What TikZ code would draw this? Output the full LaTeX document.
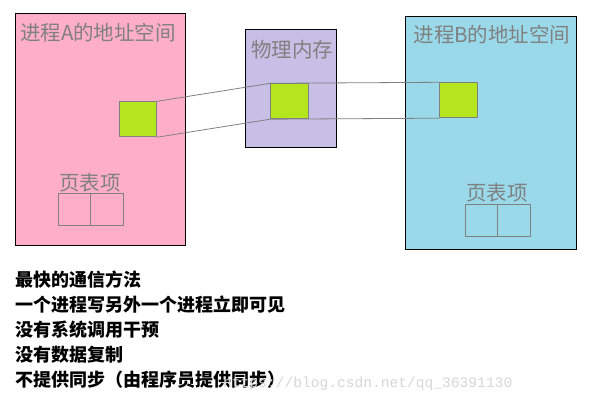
\documentclass[tikz,border=0pt]{standalone}
\usepackage{fontspec}
\newfontfamily\cjk{Noto Sans CJK SC}
\setmonofont{Liberation Mono}
\definecolor{rose}{RGB}{255,174,201}
\definecolor{lav}{RGB}{200,191,231}
\definecolor{turq}{RGB}{153,217,234}
\definecolor{lime}{RGB}{181,230,29}
\definecolor{gline}{RGB}{128,128,128}
\definecolor{wm}{RGB}{215,215,215}
\tikzset{
  area/.style={draw=black, line width=1pt, inner sep=0pt, anchor=north west},
  page/.style={draw=gline, fill=lime, line width=0.9pt, inner sep=0pt, anchor=north west, minimum width=37pt, minimum height=35pt},
  cell/.style={draw=gline, line width=0.9pt, inner sep=0pt, anchor=north west, minimum width=32.5pt, minimum height=32pt},
  title/.style={text=gline, font=\cjk\fontsize{20.5}{23}\selectfont, inner sep=0pt},
  conn/.style={draw=gline, line width=0.8pt},
  note/.style={font=\cjk\bfseries\fontsize{18}{20}\selectfont, anchor=west, inner sep=0pt, text=black}
}
\begin{document}
\begin{tikzpicture}[x=1pt,y=-1pt]
\useasboundingbox[fill=white] (0,0) rectangle (595,404);
% address spaces
\node[area, fill=rose, minimum width=170pt, minimum height=232pt] (A) at (15.3,12.7) {};
\node[area, fill=lav, minimum width=91pt, minimum height=118pt] (P) at (245.3,29.3) {};
\node[area, fill=turq, minimum width=170.4pt, minimum height=233pt] (B) at (405.3,16.3) {};
% titles
\node[title] (tA) at (98,33) {进程A的地址空间};
\node[title] (tP) at (292,49.5) {物理内存};
\node[title] (tB) at (492,35) {进程B的地址空间};
% page table labels
\node[title] (ptA) at (90,183) {页表项};
\node[title] (ptB) at (497,193) {页表项};
% page table cells
\node[cell] (cA1) at (57.5,193.3) {};
\node[cell] (cA2) at (90,193.3) {};
\node[cell] (cB1) at (464.5,204.3) {};
\node[cell] (cB2) at (497,204.3) {};
% pages
\node[page] (gA) at (119.3,101.3) {};
\node[page, minimum width=37.4pt] (gP) at (270.3,83.3) {};
\node[page, minimum width=37.4pt] (gB) at (439.3,82.3) {};
% connectors
\draw[conn] (gA.north east) -- (gP.north west);
\draw[conn] (gA.south east) -- (gP.south west);
\draw[conn] (gP.north west) -- (gB.north west);
\draw[conn] (gP.south west) -- (gB.south west);
% notes
\node[note] (n1) at (15,280) {最快的通信方法};
\node[note] (n2) at (15,305) {一个进程写另外一个进程立即可见};
\node[note] (n3) at (15,330) {没有系统调用干预};
\node[note] (n4) at (15,355) {没有数据复制};
\node[note] (n5) at (15,380) {不提供同步（由程序员提供同步）};
% watermark
\node[font=\ttfamily\fontsize{14.6}{16}\selectfont, text=wm, anchor=west, inner sep=0pt] (wmk) at (223,384) {https://blog.csdn.net/qq\_36391130};
\end{tikzpicture}
\end{document}
